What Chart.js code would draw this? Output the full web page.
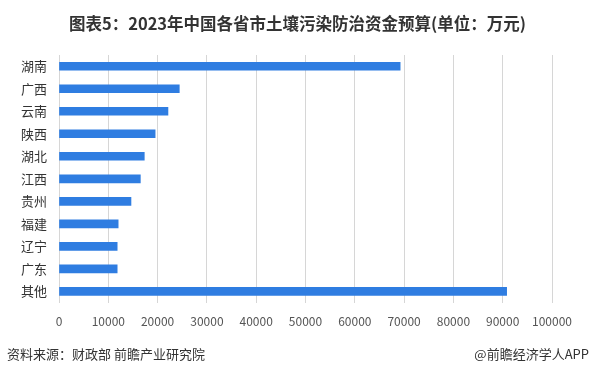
<!DOCTYPE html>
<html>
<head>
<meta charset="utf-8">
<script src="https://cdn.jsdelivr.net/npm/chart.js@4"></script>
<style>
  html, body { margin: 0; padding: 0; background: #fff; }
  #wrap { position: relative; width: 595px; height: 377px; overflow: hidden; font-family: "Noto Sans CJK SC", sans-serif; }
  #title { position: absolute; top: 11px; left: 0; width: 595px; text-align: center; font-size: 16.5px; font-weight: bold; color: #333; }
  #src { position: absolute; top: 344px; left: 7px; font-size: 13px; color: #333; }
  #brand { position: absolute; top: 344px; right: 6px; font-size: 13px; color: #333; }
  canvas { position: absolute; left: 0; top: 0; }
</style>
</head>
<body>
<div id="wrap">
  <canvas id="myChart" width="595" height="377"></canvas>
  <div id="title">图表5：2023年中国各省市土壤污染防治资金预算(单位：万元)</div>
  <div id="src">资料来源：财政部 前瞻产业研究院</div>
  <div id="brand">@前瞻经济学人APP</div>
</div>
<script>
// provinces, top to bottom
var provinces = ['湖南', '广西', '云南', '陕西', '湖北', '江西', '贵州', '福建', '辽宁', '广东', '其他'];
// budget, 万元
var budget = [69200, 24400, 22100, 19500, 17300, 16500, 14600, 12000, 11800, 11800, 90800];

var ctx = document.getElementById('myChart').getContext('2d');
var myChart = new Chart(ctx, {
	type: 'bar',
	data: {
		labels: provinces,
		datasets: [{
			data: budget,
			backgroundColor: '#2F7DE1',
			barThickness: 8
		}]
	},
	options: {
		indexAxis: 'y',
		responsive: false,
		animation: false,
		layout: {
			padding: { top: 55, left: 9, right: 43, bottom: 36 }
		},
		plugins: {
			legend: { display: false },
			tooltip: { enabled: false }
		},
		scales: {
			x: {
				min: 0,
				max: 100000,
				ticks: {
					stepSize: 10000,
					maxRotation: 0,
					autoSkip: false,
					color: '#555',
					padding: 12,
					font: { size: 12, family: '"Noto Sans CJK SC", sans-serif' },
					callback: function (v) { return String(v); }
				},
				grid: { color: '#d6d6d6', drawTicks: false },
				border: { display: false }
			},
			y: {
				ticks: {
					color: '#333',
					padding: 12,
					font: { size: 13, family: '"Noto Sans CJK SC", sans-serif' }
				},
				grid: { display: false, drawTicks: false },
				border: { display: false }
			}
		}
	}
});
</script>
</body>
</html>
